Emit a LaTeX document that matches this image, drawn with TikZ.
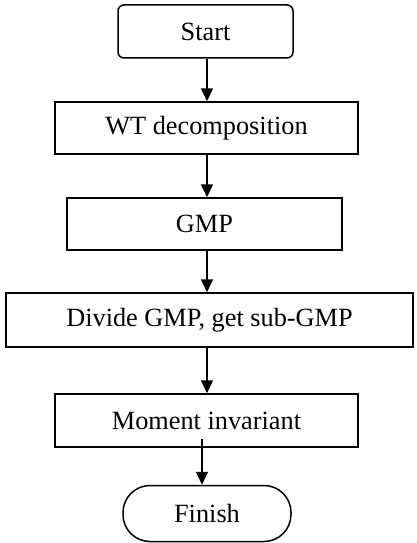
\documentclass[tikz,border=0pt]{standalone}
\usepackage{fontspec}
\setmainfont{Liberation Serif}
\usetikzlibrary{arrows.meta}
\begin{document}
\begin{tikzpicture}[x=1pt,y=-1pt,
  box/.style={draw,line width=1.5pt,inner sep=0pt,font=\fontsize{26.3}{30}\selectfont},
  arr/.style={line width=1.5pt,-{Triangle[length=13pt,width=12pt]}}]
\useasboundingbox (0,0) rectangle (417,543);
\node[box,rounded corners=6pt,minimum width=175pt,minimum height=53pt] (start) at (205.5,31.5) {Start};
\node[box,minimum width=303pt,minimum height=52pt] (wt) at (206.5,128) {WT decomposition};
\node[box,minimum width=275pt,minimum height=52pt] (gmp) at (204.5,224) {GMP};
\node[box,minimum width=407pt,minimum height=54pt] (div) at (209.5,320) {Divide GMP, get sub-GMP};
\node[box,minimum width=303pt,minimum height=53pt] (mi) at (206.5,420.5) {Moment invariant};
\node[box,rounded corners=27pt,minimum width=168pt,minimum height=56pt] (fin) at (207,513.5) {Finish};
\coordinate (ax) at (207,0);
\coordinate (bx) at (202,0);
\draw[arr] (start.south -| ax) -- (wt.north -| ax);
\draw[arr] (wt.south -| ax) -- (gmp.north -| ax);
\draw[arr] (gmp.south -| ax) -- (div.north -| ax);
\draw[arr] (div.south -| ax) -- (mi.north -| ax);
\draw[arr] ([yshift=9pt]mi.south -| bx) -- (fin.north -| bx);
\end{tikzpicture}
\end{document}
